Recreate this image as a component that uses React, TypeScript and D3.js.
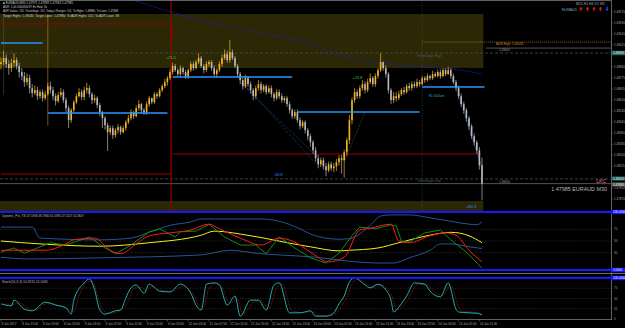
import React from 'react';
import * as d3 from 'd3';

// ---- price data (EURAUD M30) ----
const firstOpen = 1.4888;
const closes = [
  1.48895, 1.48925, 1.4888, 1.4885, 1.48888, 1.4891, 1.48865, 1.4882,
  1.4879, 1.48745, 1.48775, 1.487, 1.48663, 1.48685, 1.4864, 1.4867,
  1.48625, 1.48655, 1.48715, 1.48685, 1.4864, 1.48603, 1.48648, 1.4867,
  1.4861, 1.4855, 1.4846, 1.48535, 1.48595, 1.4864, 1.4867, 1.48633,
  1.48685, 1.487, 1.48655, 1.4861, 1.48625, 1.48573, 1.4852, 1.48475,
  1.48423, 1.4837, 1.484, 1.48348, 1.48385, 1.48408, 1.4837, 1.484,
  1.48445, 1.48475, 1.4852, 1.4849, 1.4855, 1.4858, 1.48535, 1.4852,
  1.4858, 1.48625, 1.48595, 1.48655, 1.4864, 1.48685, 1.48715, 1.48745,
  1.48775, 1.4882, 1.48865, 1.48835, 1.48805, 1.4885, 1.4882, 1.4879,
  1.48835, 1.4888, 1.4885, 1.48895, 1.48925, 1.48865, 1.48835, 1.4888,
  1.48895, 1.4885, 1.48805, 1.48835, 1.4888, 1.48925, 1.48955, 1.4891,
  1.4897, 1.48925, 1.48865, 1.48805, 1.4876, 1.48715, 1.48775, 1.4873,
  1.48685, 1.4864, 1.487, 1.4873, 1.48685, 1.48715, 1.4867, 1.487,
  1.48655, 1.48625, 1.4867, 1.4864, 1.4861, 1.48625, 1.4858, 1.48535,
  1.4849, 1.4852, 1.4846, 1.48415, 1.48445, 1.48385, 1.4834, 1.48295,
  1.48235, 1.48175, 1.4813, 1.4816, 1.48115, 1.48085, 1.4813, 1.481,
  1.48115, 1.48145, 1.48175, 1.4816, 1.4822, 1.4831, 1.4846, 1.4861,
  1.4867, 1.4864, 1.487, 1.4873, 1.48685, 1.48745, 1.48775, 1.4873,
  1.4879, 1.48835, 1.48895, 1.4885, 1.48805, 1.48685, 1.4861, 1.4864,
  1.48625, 1.48655, 1.48685, 1.4867, 1.48715, 1.487, 1.4873, 1.48715,
  1.48745, 1.4873, 1.48775, 1.4876, 1.4879, 1.48775, 1.48805, 1.4879,
  1.4882, 1.4879, 1.48835, 1.48805, 1.48835, 1.4879, 1.48745, 1.487,
  1.4864, 1.4858, 1.48535, 1.48475, 1.48415, 1.4834, 1.48295, 1.48235,
  1.48123, 1.47985,
];
const highs = [
  1.4893, 1.4898, 1.4895, 1.4891, 1.4892, 1.4896, 1.4893, 1.4889,
  1.4885, 1.4882, 1.4881, 1.488, 1.4873, 1.4872, 1.4871, 1.4869,
  1.4869, 1.4868, 1.4874, 1.4875, 1.4871, 1.4866, 1.4867, 1.487,
  1.4869, 1.4863, 1.4857, 1.4855, 1.4861, 1.4866, 1.487, 1.4869,
  1.4871, 1.4874, 1.4872, 1.4867, 1.4865, 1.4864, 1.4859, 1.4853,
  1.4849, 1.4844, 1.4842, 1.4842, 1.484, 1.4843, 1.4842, 1.4842,
  1.4846, 1.485, 1.4854, 1.4853, 1.4857, 1.4861, 1.4859, 1.4855,
  1.486, 1.4864, 1.4863, 1.4867, 1.4867, 1.487, 1.4873, 1.4877,
  1.4879, 1.4884, 1.4889, 1.4888, 1.4885, 1.4887, 1.4886, 1.4884,
  1.4885, 1.489, 1.489, 1.4891, 1.4896, 1.4894, 1.4888, 1.489,
  1.4891, 1.4891, 1.4887, 1.4885, 1.489, 1.4895, 1.4899, 1.4898,
  1.4906, 1.4899, 1.4894, 1.4888, 1.4882, 1.4878, 1.488, 1.4879,
  1.4875, 1.487, 1.4872, 1.4876, 1.4875, 1.4873, 1.4873, 1.4872,
  1.4872, 1.4867, 1.4869, 1.4869, 1.4866, 1.4864, 1.4864, 1.486,
  1.4855, 1.4854, 1.4854, 1.4848, 1.4846, 1.4846, 1.484, 1.4836,
  1.4831, 1.4826, 1.482, 1.4818, 1.4818, 1.4814, 1.4815, 1.4815,
  1.4814, 1.4817, 1.482, 1.482, 1.4824, 1.4833, 1.485, 1.4863,
  1.487, 1.4869, 1.4872, 1.4876, 1.4875, 1.4877, 1.4881, 1.4879,
  1.4881, 1.4885, 1.4896, 1.489, 1.4887, 1.4882, 1.487, 1.4867,
  1.4867, 1.4868, 1.487, 1.4871, 1.4873, 1.4874, 1.4875, 1.4875,
  1.4877, 1.4876, 1.4879, 1.4879, 1.4881, 1.488, 1.4883, 1.4882,
  1.4884, 1.4884, 1.4885, 1.4885, 1.4886, 1.4885, 1.4881, 1.4876,
  1.4872, 1.4866, 1.486, 1.4855, 1.4849, 1.4843, 1.4836, 1.4831,
  1.4826, 1.4818,
];
const lows = [
  1.4884, 1.4887, 1.4885, 1.488, 1.4882, 1.4886, 1.4884, 1.4878,
  1.4876, 1.4871, 1.4872, 1.4866, 1.4863, 1.4865, 1.4861, 1.4862,
  1.486, 1.4861, 1.4864, 1.4866, 1.4861, 1.4857, 1.4859, 1.4863,
  1.4859, 1.4852, 1.484, 1.4844, 1.4852, 1.4858, 1.4863, 1.4861,
  1.4861, 1.4866, 1.4863, 1.4858, 1.4859, 1.4855, 1.4849, 1.484,
  1.4839, 1.4823, 1.4835, 1.4832, 1.4833, 1.4836, 1.4835, 1.4836,
  1.4838, 1.4843, 1.4846, 1.4847, 1.4848, 1.4853, 1.4851, 1.485,
  1.485, 1.4856, 1.4858, 1.4858, 1.4862, 1.4863, 1.4867, 1.487,
  1.4872, 1.4876, 1.488, 1.4882, 1.4879, 1.4879, 1.488, 1.4877,
  1.4877, 1.4882, 1.4883, 1.4884, 1.4888, 1.4885, 1.4881, 1.4882,
  1.4886, 1.4883, 1.4879, 1.4878, 1.4882, 1.4886, 1.4891, 1.4889,
  1.4889, 1.4891, 1.4885, 1.4878, 1.4873, 1.4869, 1.487, 1.4871,
  1.4866, 1.4861, 1.4862, 1.4868, 1.4866, 1.4867, 1.4865, 1.4866,
  1.4863, 1.486, 1.4861, 1.4862, 1.4859, 1.4859, 1.4856, 1.4851,
  1.4847, 1.4847, 1.4844, 1.4839, 1.484, 1.4836, 1.4831, 1.4826,
  1.4821, 1.4815, 1.481, 1.4811, 1.4809, 1.4804, 1.4807, 1.4808,
  1.4807, 1.4808, 1.4812, 1.4806, 1.4803, 1.4819, 1.4828, 1.4843,
  1.4859, 1.4862, 1.4862, 1.4868, 1.4866, 1.4867, 1.4873, 1.4871,
  1.4871, 1.4877, 1.4882, 1.4883, 1.4878, 1.4866, 1.4858, 1.4859,
  1.486, 1.4861, 1.4864, 1.4865, 1.4866, 1.4868, 1.4868, 1.487,
  1.487, 1.4871, 1.4872, 1.4874, 1.4875, 1.4876, 1.4876, 1.4878,
  1.4878, 1.4877, 1.4878, 1.4879, 1.488, 1.4877, 1.4873, 1.4868,
  1.4862, 1.4856, 1.4851, 1.4845, 1.4839, 1.4832, 1.4827, 1.4821,
  1.4809, 1.4786,
];

const priceTicks = [
  '1.49270', '1.49190', '1.49105', '1.49025', '1.48940', '1.48860', '1.48775', '1.48695',
  '1.48610', '1.48530', '1.48445', '1.48365', '1.48280', '1.48200', '1.48115', '1.48035',
  '1.47950', '1.47870',
];
const timeLabels = [
  '8 Jun 2017', '8 Jun 15:00', '8 Jun 19:00', '8 Jun 23:00', '9 Jun 03:00', '9 Jun 07:00',
  '9 Jun 11:00', '9 Jun 15:00', '9 Jun 19:00', '12 Jun 03:00', '12 Jun 07:00', '12 Jun 11:00',
  '12 Jun 15:00', '12 Jun 19:00', '12 Jun 23:00', '13 Jun 03:00', '13 Jun 07:00', '13 Jun 11:00',
  '13 Jun 15:00', '13 Jun 19:00', '13 Jun 23:00', '14 Jun 03:00', '14 Jun 07:00', '14 Jun 11:00',
];

// chart objects, in [bar, price]
const srLevels = [[0, 16, 1.49038], [18, 64, 1.48514], [66, 112, 1.48783], [114, 161, 1.48521], [162, 186, 1.48709]];
const redLevels = [[0, 65.4, 1.4918], [0, 65.4, 1.48057], [66, 184.5, 1.48207]];
const maLine = [[49.6, 1.49367], [76.5, 1.4921], [99.6, 1.49113], [118.8, 1.49038], [130.4, 1.48948],
  [138, 1.48911], [145.8, 1.48896], [157.3, 1.48866], [176.5, 1.48836], [185, 1.48806]];
const blueTrends = [
  [[91.9, 1.48746], [121.2, 1.48192]], [[92.7, 1.48746], [121.2, 1.48132]],
  [[173.5, 1.48776], [184.6, 1.48125]], [[174.6, 1.48761], [185.4, 1.48072]],
];
const greenTrends = [[[53.5, 1.48514], [64.2, 1.48731]], [[132.3, 1.4816], [140, 1.48521]]];
const zoneHigh = [1.49255, 1.48851];
const zoneLowTop = 1.47855;
const yHigh = 1.48963;
const yLow = 1.4802;
const adrHigh = 1.49045;
const bid = 1.47985;
const pipLabels = [
  { bar: 65.4, price: 1.48926, text: '+25.5', color: '#2fc02f' },
  { bar: 137, price: 1.48783, text: '+23.8', color: '#2fc02f' },
  { bar: 106.5, price: 1.48057, text: '-58.8', color: '#2f86ff' },
  { bar: 180.8, price: 1.4781, text: '+80.3', color: '#2f86ff' },
];

// ---- indicator windows, [bar, value] ----
const upperBand = [[0, 74], [12, 74], [15, 55], [38, 52], [50, 55], [57, 65], [65, 77], [73, 83], [77, 88],
  [100, 88], [107, 84], [115, 71], [119, 62], [130, 53], [134, 54], [142, 77], [146, 93], [150, 95], [157, 95],
  [165, 90], [173, 84], [180, 79], [183, 78], [185, 83]];
const lowerBand = [[0, 22], [11, 19], [38, 21], [77, 26], [88, 34], [100, 28], [115, 24], [121, 22], [134, 15],
  [146, 12], [151, 12], [157, 21], [165, 34], [169, 45], [173, 45], [180, 40], [185, 37]];
const midLine = [[0, 50], [15, 45], [38, 41], [57, 47], [77, 60], [82, 67], [96, 59], [115, 43], [119, 40],
  [130, 33], [134, 34], [145, 38], [153, 47], [165, 60], [173, 65], [180, 59], [185, 47]];
const tsiRed = [[0, 34], [11, 34], [17, 34], [25, 45], [28, 52], [36, 55], [42, 34], [46, 28], [52, 45], [57, 59],
  [65, 64], [73, 69], [80, 79], [84, 71], [92, 55], [100, 43], [107, 55], [113, 48], [119, 31], [126, 14], [132, 22],
  [138, 69], [142, 72], [150, 79], [153, 50], [157, 47], [165, 59], [171, 64], [175, 60], [180, 34], [185, 14]];
const tsiGreen = [[0, 31], [5, 38], [9, 29], [19, 47], [25, 43], [34, 57], [40, 38], [44, 28], [50, 43], [57, 66],
  [61, 71], [67, 57], [69, 66], [75, 67], [80, 79], [86, 57], [92, 43], [98, 43], [102, 28], [107, 57], [113, 38],
  [119, 21], [125, 12], [130, 29], [135, 59], [138, 74], [144, 71], [150, 78], [152, 76], [154, 50], [157, 48],
  [163, 64], [169, 69], [173, 52], [179, 31], [185, 3]];
const stochMain = [[0, 37], [4, 32], [5, 46], [9, 24], [12, 20], [17, 41], [21, 34], [25, 27], [27, 12], [28, 46],
  [32, 88], [34, 98], [36, 71], [38, 22], [40, 12], [44, 20], [46, 22], [48, 51], [50, 76], [52, 83], [55, 63],
  [57, 85], [61, 68], [65, 66], [69, 85], [73, 63], [75, 34], [77, 22], [79, 85], [82, 88], [84, 83], [87, 34],
  [90, 56], [92, 7], [96, 46], [99, 46], [102, 22], [105, 83], [107, 88], [111, 15], [115, 15], [119, 20],
  [121, 7], [125, 7], [128, 15], [130, 37], [132, 56], [134, 90], [136, 100], [140, 83], [142, 76], [145, 85],
  [148, 71], [150, 46], [151, 17], [153, 29], [156, 56], [159, 88], [163, 85], [165, 68], [169, 54], [172, 88],
  [175, 24], [176, 17], [180, 15], [183, 14], [185, 10]];
const stochSignal = [[1, 36], [5, 36], [7, 40], [10, 27], [13, 21], [18, 39], [22, 33], [26, 24], [28, 18],
  [30, 55], [33, 90], [35, 92], [37, 60], [39, 22], [42, 14], [46, 21], [49, 45], [51, 74], [54, 78], [56, 68],
  [58, 80], [62, 70], [66, 68], [70, 80], [74, 60], [76, 34], [78, 28], [80, 75], [83, 88], [85, 78], [88, 38],
  [91, 48], [93, 12], [97, 40], [100, 45], [103, 25], [106, 75], [108, 86], [112, 20], [116, 16], [120, 18],
  [122, 9], [126, 8], [129, 14], [131, 32], [133, 52], [135, 85], [137, 97], [141, 84], [143, 77], [146, 82],
  [149, 70], [151, 45], [152, 22], [154, 28], [157, 52], [160, 84], [164, 84], [166, 70], [170, 58], [173, 82],
  [176, 30], [177, 20], [181, 17], [184, 15], [185, 13]];
const tsiLevels = [70, 50, 30];
const stochLevels = [75, 50, 25];

const FONT = 'Liberation Sans, Arial, sans-serif';
const W = 625;
const H = 328;
const AX = 611;

const App = () => {
  const x = d3.scaleLinear().domain([0, 185]).range([1, 482]);
  const y = d3.scaleLinear().domain([1.4778, 1.4936]).range([211, 0]);
  const yT = d3.scaleLinear().domain([0, 100]).range([270, 212]);
  const yS = d3.scaleLinear().domain([0, 100]).range([319, 278]);

  const priceLine = d3.line<number[]>().x(d => x(d[0])).y(d => y(d[1]));
  const tsiLine = d3.line<number[]>().x(d => x(d[0])).y(d => yT(d[1])).curve(d3.curveMonotoneX);
  const tsiJag = d3.line<number[]>().x(d => x(d[0])).y(d => yT(d[1]));
  const stLine = d3.line<number[]>().x(d => x(d[0])).y(d => yS(d[1])).curve(d3.curveMonotoneX);

  const bars = closes.map((c, i) => {
    const o = i === 0 ? firstOpen : closes[i - 1];
    return { i, o, c, h: Math.max(highs[i], o, c), l: Math.min(lows[i], o, c) };
  });

  // price labels hidden behind the marker boxes on the axis
  const boxPrices = [yHigh, yLow, bid];
  const visibleTicks = priceTicks.filter(t => boxPrices.every(b => Math.abs(y(+t) - y(b)) > 4.6));

  const txt = (props: any, s: string) => (
    <text fontFamily={FONT} {...props}>{s}</text>
  );

  return (
    <svg width={W} height={H} style={{ position: 'fixed', left: 0, top: 0, background: '#000' }}>
      <defs>
        <clipPath id="mainClip"><rect x={0} y={0} width={AX} height={211} /></clipPath>
        <clipPath id="tsiClip"><rect x={0} y={213} width={AX} height={57} /></clipPath>
        <clipPath id="stClip"><rect x={0} y={279} width={AX} height={40} /></clipPath>
      </defs>
      <rect width={W} height={H} fill="#000" />

      {/* ---------- main window ---------- */}
      <g clipPath="url(#mainClip)">
        <rect x={0} y={y(zoneHigh[0])} width={x(185.5)} height={y(zoneHigh[1]) - y(zoneHigh[0])} fill="#2c2805" />
        <rect x={0} y={y(zoneLowTop)} width={x(185.5)} height={211 - y(zoneLowTop)} fill="#2c2805" />

        <line x1={x(162)} x2={x(162)} y1={0} y2={211} stroke="#555" strokeWidth={0.6} strokeDasharray="1,1.5" />
        <line x1={x(18)} x2={x(18)} y1={y(zoneHigh[0])} y2={y(1.4842)} stroke="#b07a10" strokeWidth={0.7} />
        <line x1={x(1)} x2={x(1)} y1={y(zoneHigh[0])} y2={y(1.4865)} stroke="#555" strokeWidth={0.5} />

        {/* yesterday high / low, bid */}
        <line x1={0} x2={AX} y1={y(yHigh)} y2={y(yHigh)} stroke="#3d5555" strokeWidth={0.8} strokeDasharray="3,2" />
        <line x1={0} x2={AX} y1={y(yLow)} y2={y(yLow)} stroke="#3d5555" strokeWidth={0.8} strokeDasharray="3,2" />
        <line x1={0} x2={AX} y1={y(bid)} y2={y(bid)} stroke="#8a8a8a" strokeWidth={0.6} />
        <line x1={x(186.5)} x2={AX} y1={y(1.49)} y2={y(1.49)} stroke="#8a8a8a" strokeWidth={0.6} />
        <line x1={x(162)} x2={AX} y1={y(adrHigh)} y2={y(adrHigh)} stroke="#c8871a" strokeWidth={0.7} strokeDasharray="1,1" />

        {/* weekly red levels */}
        {redLevels.map((r, k) => (
          <line key={'r' + k} x1={x(r[0])} x2={x(r[1])} y1={y(r[2])} y2={y(r[2])} stroke="#9a0000" strokeWidth={1} />
        ))}
        <line x1={x(65.4)} x2={x(65.4)} y1={0} y2={211} stroke="#9a0000" strokeWidth={1.2} />
        <line x1={x(65.9)} x2={x(65.9)} y1={y(1.49152)} y2={y(1.49062)} stroke="#9a0000" strokeWidth={0.8} />

        {/* moving average */}
        <path d={priceLine.curve(d3.curveMonotoneX)(maLine) || ''} fill="none" stroke="#1e1ea8" strokeWidth={0.9} strokeDasharray="2,1" />

        {/* trend lines */}
        {blueTrends.map((t, k) => (
          <path key={'bt' + k} d={priceLine.curve(d3.curveLinear)(t) || ''} stroke="#2a6fd0" strokeWidth={0.7} strokeDasharray="0.8,1.2" fill="none" />
        ))}
        {greenTrends.map((t, k) => (
          <path key={'gt' + k} d={priceLine.curve(d3.curveLinear)(t) || ''} stroke="#2fa02f" strokeWidth={0.7} strokeDasharray="0.8,1.2" fill="none" />
        ))}

        {/* candles */}
        {bars.map(b => {
          const col = b.c >= b.o ? '#f2b31e' : '#b9b9b9';
          const top = y(Math.max(b.o, b.c));
          const bot = y(Math.min(b.o, b.c));
          return (
            <g key={b.i}>
              <line x1={x(b.i)} x2={x(b.i)} y1={y(b.h)} y2={y(b.l)} stroke={col} strokeWidth={0.7} />
              <rect x={x(b.i) - 0.8} y={top} width={1.6} height={Math.max(0.7, bot - top)} fill={col} />
            </g>
          );
        })}

        {/* support / resistance */}
        {srLevels.map((s, k) => (
          <line key={'s' + k} x1={x(s[0])} x2={x(s[1])} y1={y(s[2])} y2={y(s[2])} stroke="#2a95ff" strokeWidth={1.4} />
        ))}

        {pipLabels.map((p, k) => (
          <text key={'p' + k} x={x(p.bar)} y={y(p.price) + 1.5} fontFamily={FONT} fontSize={4} fill={p.color} textAnchor="middle">{p.text}</text>
        ))}
        {txt({ x: x(160), y: y(yHigh) + 4, fontSize: 3.4, fill: '#4f6060' }, 'Yesterdays High')}
        {txt({ x: x(160), y: y(yLow) + 3.2, fontSize: 3.4, fill: '#4f6060' }, 'Yesterdays Low')}
        {txt({ x: x(164.5), y: y(1.48709) + 10, fontSize: 3, fill: '#3fa0b0' }, 'R1 0000am')}
        {txt({ x: 496, y: y(adrHigh) + 3.2, fontSize: 3.2, fill: '#d08a1a' }, 'ADR High: 1.49045')}
        {txt({ x: 499, y: y(1.49) + 3.4, fontSize: 3, fill: '#9a9a9a' }, '1.49000')}
        {txt({ x: 499, y: y(1.48) + 1.6, fontSize: 3, fill: '#9a9a9a' }, '1.48000')}
        {txt({ x: 606, y: y(bid) - 0.6, fontSize: 5, fill: '#e070a0', textAnchor: 'end' }, 'LKC')}
        {txt({ x: 607, y: y(bid) + 7.5, fontSize: 5.4, fill: '#b8b8b8', textAnchor: 'end' }, '1.47985  EURAUD M30')}
      </g>

      {/* header texts */}
      {txt({ x: 3, y: 4, fontSize: 3.2, fill: '#cfcfcf', textLength: 70, lengthAdjust: 'spacingAndGlyphs' }, '\u25A0 EURAUD,M30  1.47971 1.47989 1.47963 1.47985')}
      {txt({ x: 3, y: 8.2, fontSize: 3.2, fill: '#cfcfcf', textLength: 44, lengthAdjust: 'spacingAndGlyphs' }, 'ADR: 1.00 0000/00/37 Ex Hod: 3s')}
      {txt({ x: 3, y: 12.4, fontSize: 3.2, fill: '#cfcfcf', textLength: 115, lengthAdjust: 'spacingAndGlyphs' }, "ADR Values: 135, Yesterdays: 101, Today's Ranges: 101, To Highs: 1.48880; To Lows: 1.47848")}
      {txt({ x: 3, y: 16.6, fontSize: 3.2, fill: '#cfcfcf', textLength: 116, lengthAdjust: 'spacingAndGlyphs' }, 'Target Highs: 1.49045; Target Lows: 1.47880; To ADR Highs: 101; To ADR Lows: 38')}

      {txt({ x: 576, y: 5, fontSize: 3.4, fill: '#8fb8c0', textLength: 29, lengthAdjust: 'spacingAndGlyphs' }, 'M15  H1  H4  D1  W1')}
      {txt({ x: 562, y: 10.6, fontSize: 3.4, fill: '#6fb8c8', textLength: 15, lengthAdjust: 'spacingAndGlyphs' }, 'EURAUD')}
      {[581, 587.5, 594, 600.5].map(ax => (
        <path key={'a' + ax} d={`M${ax},6.8 L${ax + 1.8},8.8 L${ax + 0.7},8.8 L${ax + 0.7},11 L${ax - 0.7},11 L${ax - 0.7},8.8 L${ax - 1.8},8.8 Z`} fill="#e01818" />
      ))}
      <path d="M607,11 L608.8,9 L607.7,9 L607.7,6.8 L606.3,6.8 L606.3,9 L605.2,9 Z" fill="#2040ff" />

      {/* price axis */}
      <line x1={AX + 0.5} x2={AX + 0.5} y1={0} y2={320} stroke="#7a7a7a" strokeWidth={0.8} />
      <line x1={0} x2={AX} y1={0.5} y2={0.5} stroke="#7a7a7a" strokeWidth={0.8} />
      {visibleTicks.map(t => (
        <g key={t}>
          <line x1={AX} x2={AX + 2} y1={y(+t)} y2={y(+t)} stroke="#7a7a7a" strokeWidth={0.5} />
          {txt({ x: 614, y: y(+t) + 1, fontSize: 3, fill: '#a8a8a8' }, t)}
        </g>
      ))}
      <rect x={AX} y={y(yHigh) - 2.2} width={14} height={4.4} fill="#2d6a6a" />
      {txt({ x: 613, y: y(yHigh) + 1.1, fontSize: 3, fill: '#dfeeee' }, '1.48963')}
      <rect x={AX} y={y(yLow) - 2.4} width={14} height={4} fill="#2d6a6a" />
      {txt({ x: 613, y: y(yLow) + 0.8, fontSize: 3, fill: '#dfeeee' }, '1.48020')}
      <rect x={AX} y={y(bid) - 1.2} width={14} height={4} fill="#5a5a5a" />
      {txt({ x: 613, y: y(bid) + 1.9, fontSize: 3, fill: '#f0f0f0' }, '1.47985')}

      {/* ---------- TSI window ---------- */}
      <rect x={0} y={211} width={W} height={2} fill="#1717ff" />
      <g clipPath="url(#tsiClip)">
        {tsiLevels.map(l => (
          <line key={'tl' + l} x1={0} x2={AX} y1={yT(l)} y2={yT(l)} stroke="#555" strokeWidth={0.5} strokeDasharray="1,1.5" />
        ))}
        <path d={tsiLine(upperBand) || ''} fill="none" stroke="#2b5ca8" strokeWidth={0.9} />
        <path d={tsiLine(lowerBand) || ''} fill="none" stroke="#2b5ca8" strokeWidth={0.9} />
        <path d={tsiLine(midLine) || ''} fill="none" stroke="#f2f21e" strokeWidth={1} />
        <path d={tsiJag(tsiGreen) || ''} fill="none" stroke="#139a13" strokeWidth={0.9} />
        <path d={tsiLine(tsiRed) || ''} fill="none" stroke="#ff1a1a" strokeWidth={1} />
      </g>
      {txt({ x: 2, y: 216.8, fontSize: 3, fill: '#bdbdbd', textLength: 82, lengthAdjust: 'spacingAndGlyphs' }, 'Dynamic_Pro_TSI 47.5994 48.7960 61.0395 47.5527 41.8607')}
      {tsiLevels.map(l => txt({ key: 'tv' + l, x: 614, y: yT(l) + 1, fontSize: 3, fill: '#a8a8a8' }, String(l)))}
      <rect x={0} y={269} width={W} height={2} fill="#1717ff" />
      <rect x={AX} y={209.8} width={14} height={4.4} fill="#1717ff" />
      {txt({ x: 613, y: 213.1, fontSize: 3, fill: '#fff' }, '100.0000')}
      <rect x={AX} y={267.8} width={14} height={4.4} fill="#1717ff" />
      {txt({ x: 613, y: 271.1, fontSize: 3, fill: '#fff' }, '0.0000')}

      {/* ---------- Stochastic window ---------- */}
      <line x1={0} x2={W} y1={273.5} y2={273.5} stroke="#6a6a6a" strokeWidth={1} />
      <rect x={0} y={277} width={W} height={2} fill="#1717ff" />
      <rect x={AX} y={275.8} width={14} height={4.4} fill="#1717ff" />
      {txt({ x: 613, y: 279.1, fontSize: 3, fill: '#fff' }, '100.0000')}
      <g clipPath="url(#stClip)">
        {stochLevels.map(l => (
          <line key={'sl' + l} x1={0} x2={AX} y1={yS(l)} y2={yS(l)} stroke="#555" strokeWidth={0.5} strokeDasharray="1,1.5" />
        ))}
        <path d={stLine(stochSignal) || ''} fill="none" stroke="#c81e1e" strokeWidth={0.7} strokeDasharray="0.8,0.8" />
        <path d={stLine(stochMain) || ''} fill="none" stroke="#1fb0b0" strokeWidth={1} />
      </g>
      {txt({ x: 2, y: 282.5, fontSize: 3, fill: '#bdbdbd', textLength: 46, lengthAdjust: 'spacingAndGlyphs' }, 'Stoch(10,3,3) 10.3215 11.5091')}
      {stochLevels.map(l => txt({ key: 'sv' + l, x: 614, y: yS(l) + 1, fontSize: 3, fill: '#a8a8a8' }, String(l)))}
      {txt({ x: 614, y: yS(0) + 1, fontSize: 3, fill: '#a8a8a8' }, '0')}

      {/* time axis */}
      <line x1={0} x2={AX + 1} y1={319.5} y2={319.5} stroke="#7a7a7a" strokeWidth={0.8} />
      {timeLabels.map((t, k) => (
        <g key={t}>
          <line x1={x(k * 8)} x2={x(k * 8)} y1={319.5} y2={321.5} stroke="#7a7a7a" strokeWidth={0.5} />
          {txt({ x: x(k * 8) + 0.5, y: 325, fontSize: 3, fill: '#a8a8a8' }, t)}
        </g>
      ))}
    </svg>
  );
};

export default App;
